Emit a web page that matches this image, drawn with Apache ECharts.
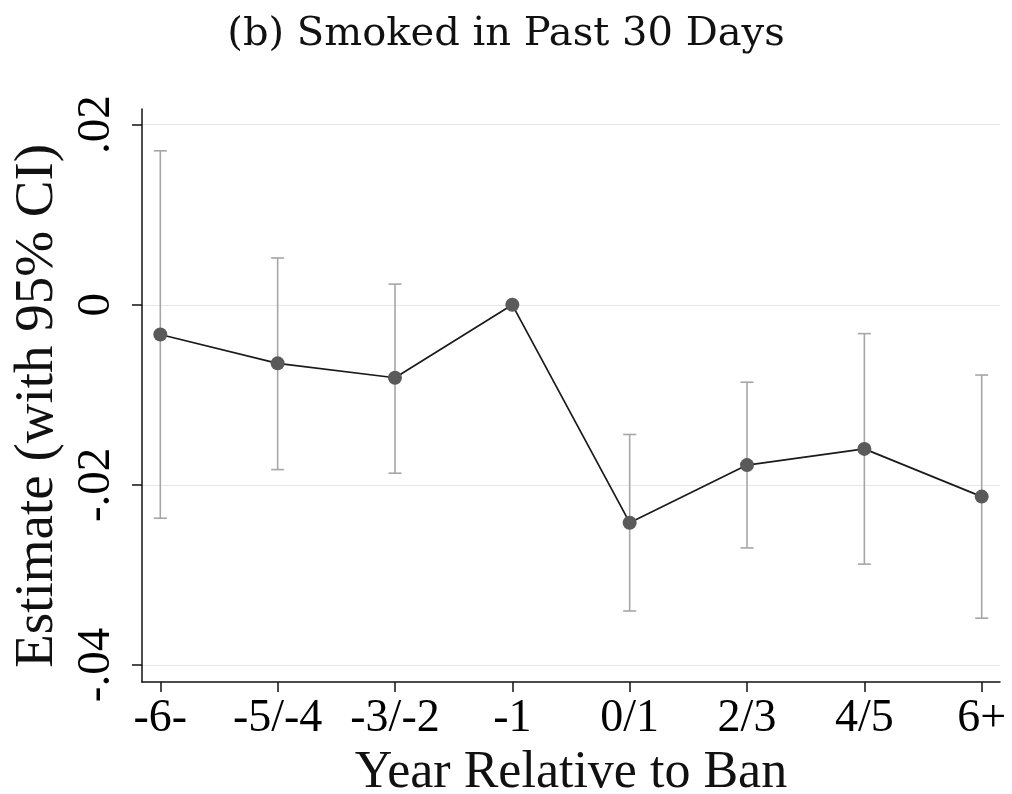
<!DOCTYPE html>
<html>
<head>
<meta charset="utf-8">
<script src="https://cdn.jsdelivr.net/npm/echarts@6/dist/echarts.min.js"></script>
<style>html,body{margin:0;padding:0;background:#fff}#c{width:1012px;height:794px}</style>
</head>
<body>
<div id="c"></div>
<script>
const categories = ['-6-', '-5/-4', '-3/-2', '-1', '0/1', '2/3', '4/5', '6+'];
const estimates = [-0.0033, -0.0065, -0.0081, 0, -0.0242, -0.0178, -0.0160, -0.0213];
const ciUpper = [0.0171, 0.0052, 0.0023, null, -0.0144, -0.0086, -0.0032, -0.0078];
const ciLower = [-0.0237, -0.0183, -0.0187, null, -0.0340, -0.0270, -0.0288, -0.0348];
const yTicks = [-0.04, -0.02, 0, 0.02];

const serif = '"Liberation Serif", "DejaVu Serif", serif';
const titleFont = '"DejaVu Serif", "Liberation Serif", serif';
const fmtY = v => {
  if (Math.abs(v) < 1e-9) return '0';
  return v.toFixed(2).replace('0.', '.');
};

const pointData = categories.map((c, i) => [i, estimates[i]]);
const ciData = categories.map((c, i) => [i, ciLower[i], ciUpper[i]]).filter(d => d[1] !== null);

const chart = echarts.init(document.getElementById('c'), null, {renderer: 'canvas'});
chart.setOption({
  animation: false,
  backgroundColor: '#fff',
  title: {
    text: '(b) Smoked in Past 30 Days',
    left: 'center',
    top: 10,
    textStyle: {fontFamily: titleFont, fontWeight: 'normal', fontSize: 40, color: '#111'}
  },
  grid: [
    {left: 142, right: 12, top: 109, bottom: 112, outerBoundsMode: 'none', containLabel: false},
    {left: 142, right: 12, top: 124.7, bottom: 129, outerBoundsMode: 'none', containLabel: false}
  ],
  xAxis: [
    {
      gridIndex: 0, type: 'value', min: -0.156, max: 7.156,
      axisLine: {show: true, onZero: false, lineStyle: {color: '#111', width: 1.5}},
      axisTick: {show: true, length: 10, customValues: categories.map((c, i) => i), lineStyle: {color: '#111', width: 1.5}},
      axisLabel: {customValues: categories.map((c, i) => i), formatter: v => categories[Math.round(v)],
        fontFamily: serif, fontSize: 46, color: '#000', margin: 14},
      splitLine: {show: false},
      name: 'Year Relative to Ban', nameLocation: 'middle', nameGap: 63,
      nameTextStyle: {fontFamily: serif, fontSize: 52, color: '#111'}
    },
    {gridIndex: 1, type: 'value', min: 0, max: 1, show: false}
  ],
  yAxis: [
    {
      gridIndex: 0, type: 'value', min: -0.041888, max: 0.021743,
      axisLine: {show: true, onZero: false, lineStyle: {color: '#111', width: 1.5}},
      axisTick: {show: false}, axisLabel: {show: false}, splitLine: {show: false}
    },
    {
      gridIndex: 1, type: 'value', min: -0.04, max: 0.02, interval: 0.02,
      axisLine: {show: false, onZero: false},
      axisTick: {show: true, length: 10, lineStyle: {color: '#111', width: 1.5}},
      axisLabel: {formatter: fmtY, rotate: 90, fontFamily: serif, fontSize: 47, color: '#000', margin: 22},
      splitLine: {show: true, lineStyle: {color: '#e6e6e6', width: 1.2}},
      name: 'Estimate (with 95% CI)', nameLocation: 'middle', nameGap: 70, nameRotate: 90,
      nameTextStyle: {fontFamily: serif, fontSize: 55, color: '#111', padding: [0, 22, 0, 0]}
    }
  ],
  series: [
    {
      type: 'custom',
      xAxisIndex: 0, yAxisIndex: 0,
      data: ciData,
      encode: {x: 0, y: [1, 2]},
      z: 3,
      renderItem: (params, api) => {
        const x = api.value(0);
        const lo = api.coord([x, api.value(1)]);
        const hi = api.coord([x, api.value(2)]);
        const hw = 6.5;
        const style = {stroke: '#a6a6a6', lineWidth: 1.6};
        return {
          type: 'group',
          children: [
            {type: 'line', shape: {x1: lo[0], y1: lo[1], x2: hi[0], y2: hi[1]}, style},
            {type: 'line', shape: {x1: lo[0] - hw, y1: lo[1], x2: lo[0] + hw, y2: lo[1]}, style},
            {type: 'line', shape: {x1: hi[0] - hw, y1: hi[1], x2: hi[0] + hw, y2: hi[1]}, style}
          ]
        };
      }
    },
    {
      type: 'line',
      xAxisIndex: 0, yAxisIndex: 0,
      data: pointData,
      z: 4,
      symbol: 'circle', symbolSize: 14,
      lineStyle: {color: '#1a1a1a', width: 1.7},
      itemStyle: {color: '#5a5a5a', borderWidth: 0}
    }
  ]
});
</script>
</body>
</html>
